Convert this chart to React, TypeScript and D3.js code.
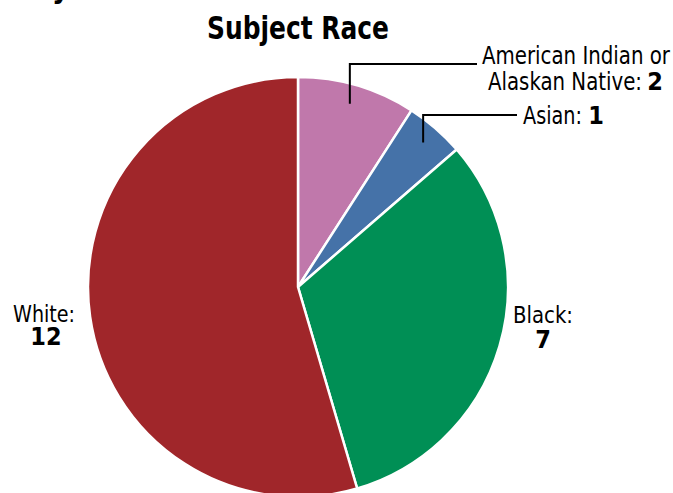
import React from "react";
import * as d3 from "d3";

// Subject race breakdown
const categories = ["American Indian or Alaskan Native", "Asian", "Black", "White"];
const counts = [2, 1, 7, 12];
const colors = ["#C078AB", "#4572A8", "#008F55", "#A0262A"];

const width = 673;
const height = 493;
const cx = 298;
const cy = 287;
const radius = 210;
const font = "'DejaVu Sans Condensed', 'DejaVu Sans', sans-serif";

const App: React.FC = () => {
  const pie = d3.pie<number>().sort(null).value((d) => d);
  const arcs = pie(counts);
  const arc = d3.arc<d3.PieArcDatum<number>>().innerRadius(0).outerRadius(radius);
  // point on the slice where leader lines start
  const anchor = d3.arc<d3.PieArcDatum<number>>().innerRadius(radius * 0.91).outerRadius(radius * 0.91);

  const aiStart = anchor.centroid(arcs[0]);
  const asStart = anchor.centroid(arcs[1]);
  const fit = "spacingAndGlyphs";

  return (
    <svg
      width={width}
      height={height}
      style={{ position: "absolute", left: 0, top: 0, fontStretch: "condensed" }}
      fontFamily={font}
    >
      <text x={52} y={-2} fontSize={30} fontWeight="bold">y</text>
      <text x={cx} y={39} textAnchor="middle" fontSize={32} fontWeight="bold" textLength={182} lengthAdjust={fit}>
        Subject Race
      </text>
      <g transform={`translate(${cx},${cy})`}>
        {arcs.map((a, i) => (
          <path
            key={categories[i]}
            d={arc(a) ?? ""}
            fill={colors[i]}
            stroke="#fff"
            strokeWidth={2.5}
            strokeLinejoin="round"
          />
        ))}
        <path
          d={`M${aiStart[0] - 2},${aiStart[1]}V${64 - cy}H${477 - cx}`}
          fill="none"
          stroke="#000"
          strokeWidth={2}
        />
        <path
          d={`M${asStart[0]},${asStart[1]}V${115 - cy}H${517 - cx}`}
          fill="none"
          stroke="#000"
          strokeWidth={2}
        />
      </g>
      <g fontSize={24}>
        <text x={482} y={64} textLength={188} lengthAdjust={fit}>American Indian or</text>
        <text x={488} y={90} textLength={154} lengthAdjust={fit}>Alaskan Native:</text>
        <text x={663} y={90} textAnchor="end" fontWeight="bold" fontSize={25}>{counts[0]}</text>
        <text x={523} y={124} textLength={59} lengthAdjust={fit}>Asian:</text>
        <text x={604} y={124} textAnchor="end" fontWeight="bold" fontSize={25}>{counts[1]}</text>
      </g>
      <g fontSize={23}>
        <text x={13} y={322} textLength={62} lengthAdjust={fit}>White:</text>
        <text x={46} y={345} textAnchor="middle" fontWeight="bold" fontSize={25}>{counts[3]}</text>
        <text x={513} y={323} textLength={60} lengthAdjust={fit}>Black:</text>
        <text x={543} y={348} textAnchor="middle" fontWeight="bold" fontSize={25}>{counts[2]}</text>
      </g>
    </svg>
  );
};

export default App;
